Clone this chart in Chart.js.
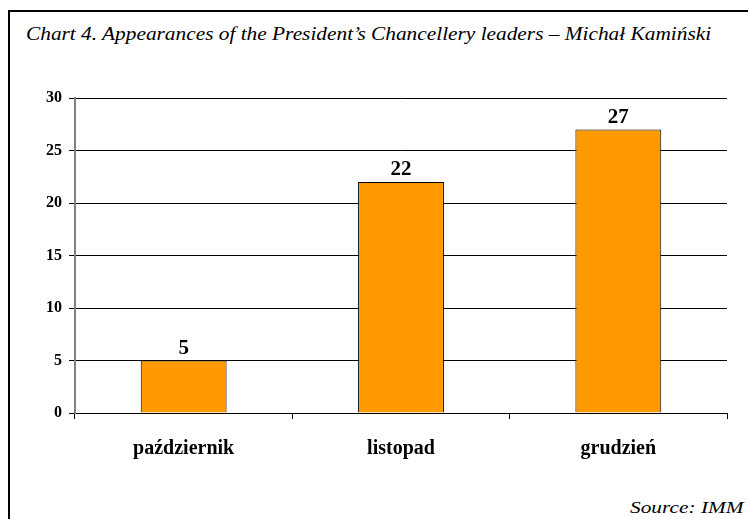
<!DOCTYPE html>
<html>
<head>
<meta charset="utf-8">
<script src="https://cdn.jsdelivr.net/npm/chart.js@4.4.1/dist/chart.umd.min.js"></script>
<style>
  body { margin: 0; background: #fff; }
  #wrap { position: relative; width: 748px; height: 519px; overflow: hidden; }
  #frame { position: absolute; left: 8px; top: 10px; width: 800px; height: 600px;
           border-left: 2px solid #000; border-top: 2px solid #000; }
  #title, #source { position: absolute; white-space: nowrap; font-family: "Liberation Serif", "Times New Roman", serif;
           font-style: italic; font-size: 17px; line-height: 17px; transform-origin: left top; }
  #title { left: 26px; top: 25px; font-size: 18px; line-height: 18px; }
  #source { left: 630px; top: 499px; }
  canvas { position: absolute; left: 0; top: 0; }
</style>
</head>
<body>
<div id="wrap">
  <div id="frame"></div>
  <div id="title">Chart 4. Appearances of the President’s Chancellery leaders – Michał Kamiński</div>
  <div id="source">Source: IMM</div>
  <canvas id="barChart" width="748" height="519"></canvas>
</div>
<script>
// dane wykresu
const months = ["październik", "listopad", "grudzień"];
const appearances = [5, 22, 27];
const yTicks = [0, 5, 10, 15, 20, 25, 30];

// dopasowanie szerokości tekstów do oryginału
function fitWidth(id, target) {
  const el = document.getElementById(id);
  el.style.transform = "scaleX(" + (target / el.offsetWidth) + ")";
}
fitWidth("title", 685);
fitWidth("source", 113);

// etykiety wartości nad słupkami
const valueLabels = {
  id: "valueLabels",
  afterDatasetsDraw(chart) {
    const ctx = chart.ctx;
    const meta = chart.getDatasetMeta(0);
    ctx.save();
    ctx.font = 'bold 21px "Liberation Serif"';
    ctx.fillStyle = "#000";
    ctx.textAlign = "center";
    ctx.textBaseline = "alphabetic";
    meta.data.forEach((bar, i) => {
      ctx.fillText(appearances[i], bar.x, bar.y - 7);
    });
    ctx.restore();
  }
};

const ctx = document.getElementById("barChart").getContext("2d");
new Chart(ctx, {
  type: "bar",
  data: {
    labels: months,
    datasets: [{
      data: appearances,
      backgroundColor: "#FF9900",
      borderColor: "#000",
      borderWidth: 1,
      categoryPercentage: 1,
      barPercentage: 0.395
    }]
  },
  options: {
    responsive: false,
    animation: false,
    layout: { padding: { top: 98, right: 21, bottom: 56, left: 0 } },
    plugins: {
      legend: { display: false },
      tooltip: { enabled: false }
    },
    scales: {
      x: {
        afterFit(scale) { scale.height = 50; },
        grid: { display: true, drawOnChartArea: false, drawTicks: true, tickLength: 6, color: "#000", offset: true },
        border: { display: true, color: "#000", width: 1 },
        ticks: {
          color: "#000",
          padding: 18,
          font: { family: "Liberation Serif", size: 20, weight: "bold" }
        }
      },
      y: {
        min: 0,
        max: 30,
        afterFit(scale) { scale.width = 75; },
        afterBuildTicks(scale) { scale.ticks = yTicks.map(v => ({ value: v })); },
        grid: { color: "#000", lineWidth: 1, tickLength: 6, drawTicks: true },
        border: { display: true, color: "#808080", width: 2 },
        ticks: {
          color: "#000",
          padding: 7,
          font: { family: "Liberation Serif", size: 16, weight: "bold" }
        }
      }
    }
  },
  plugins: [valueLabels]
});
</script>
</body>
</html>
